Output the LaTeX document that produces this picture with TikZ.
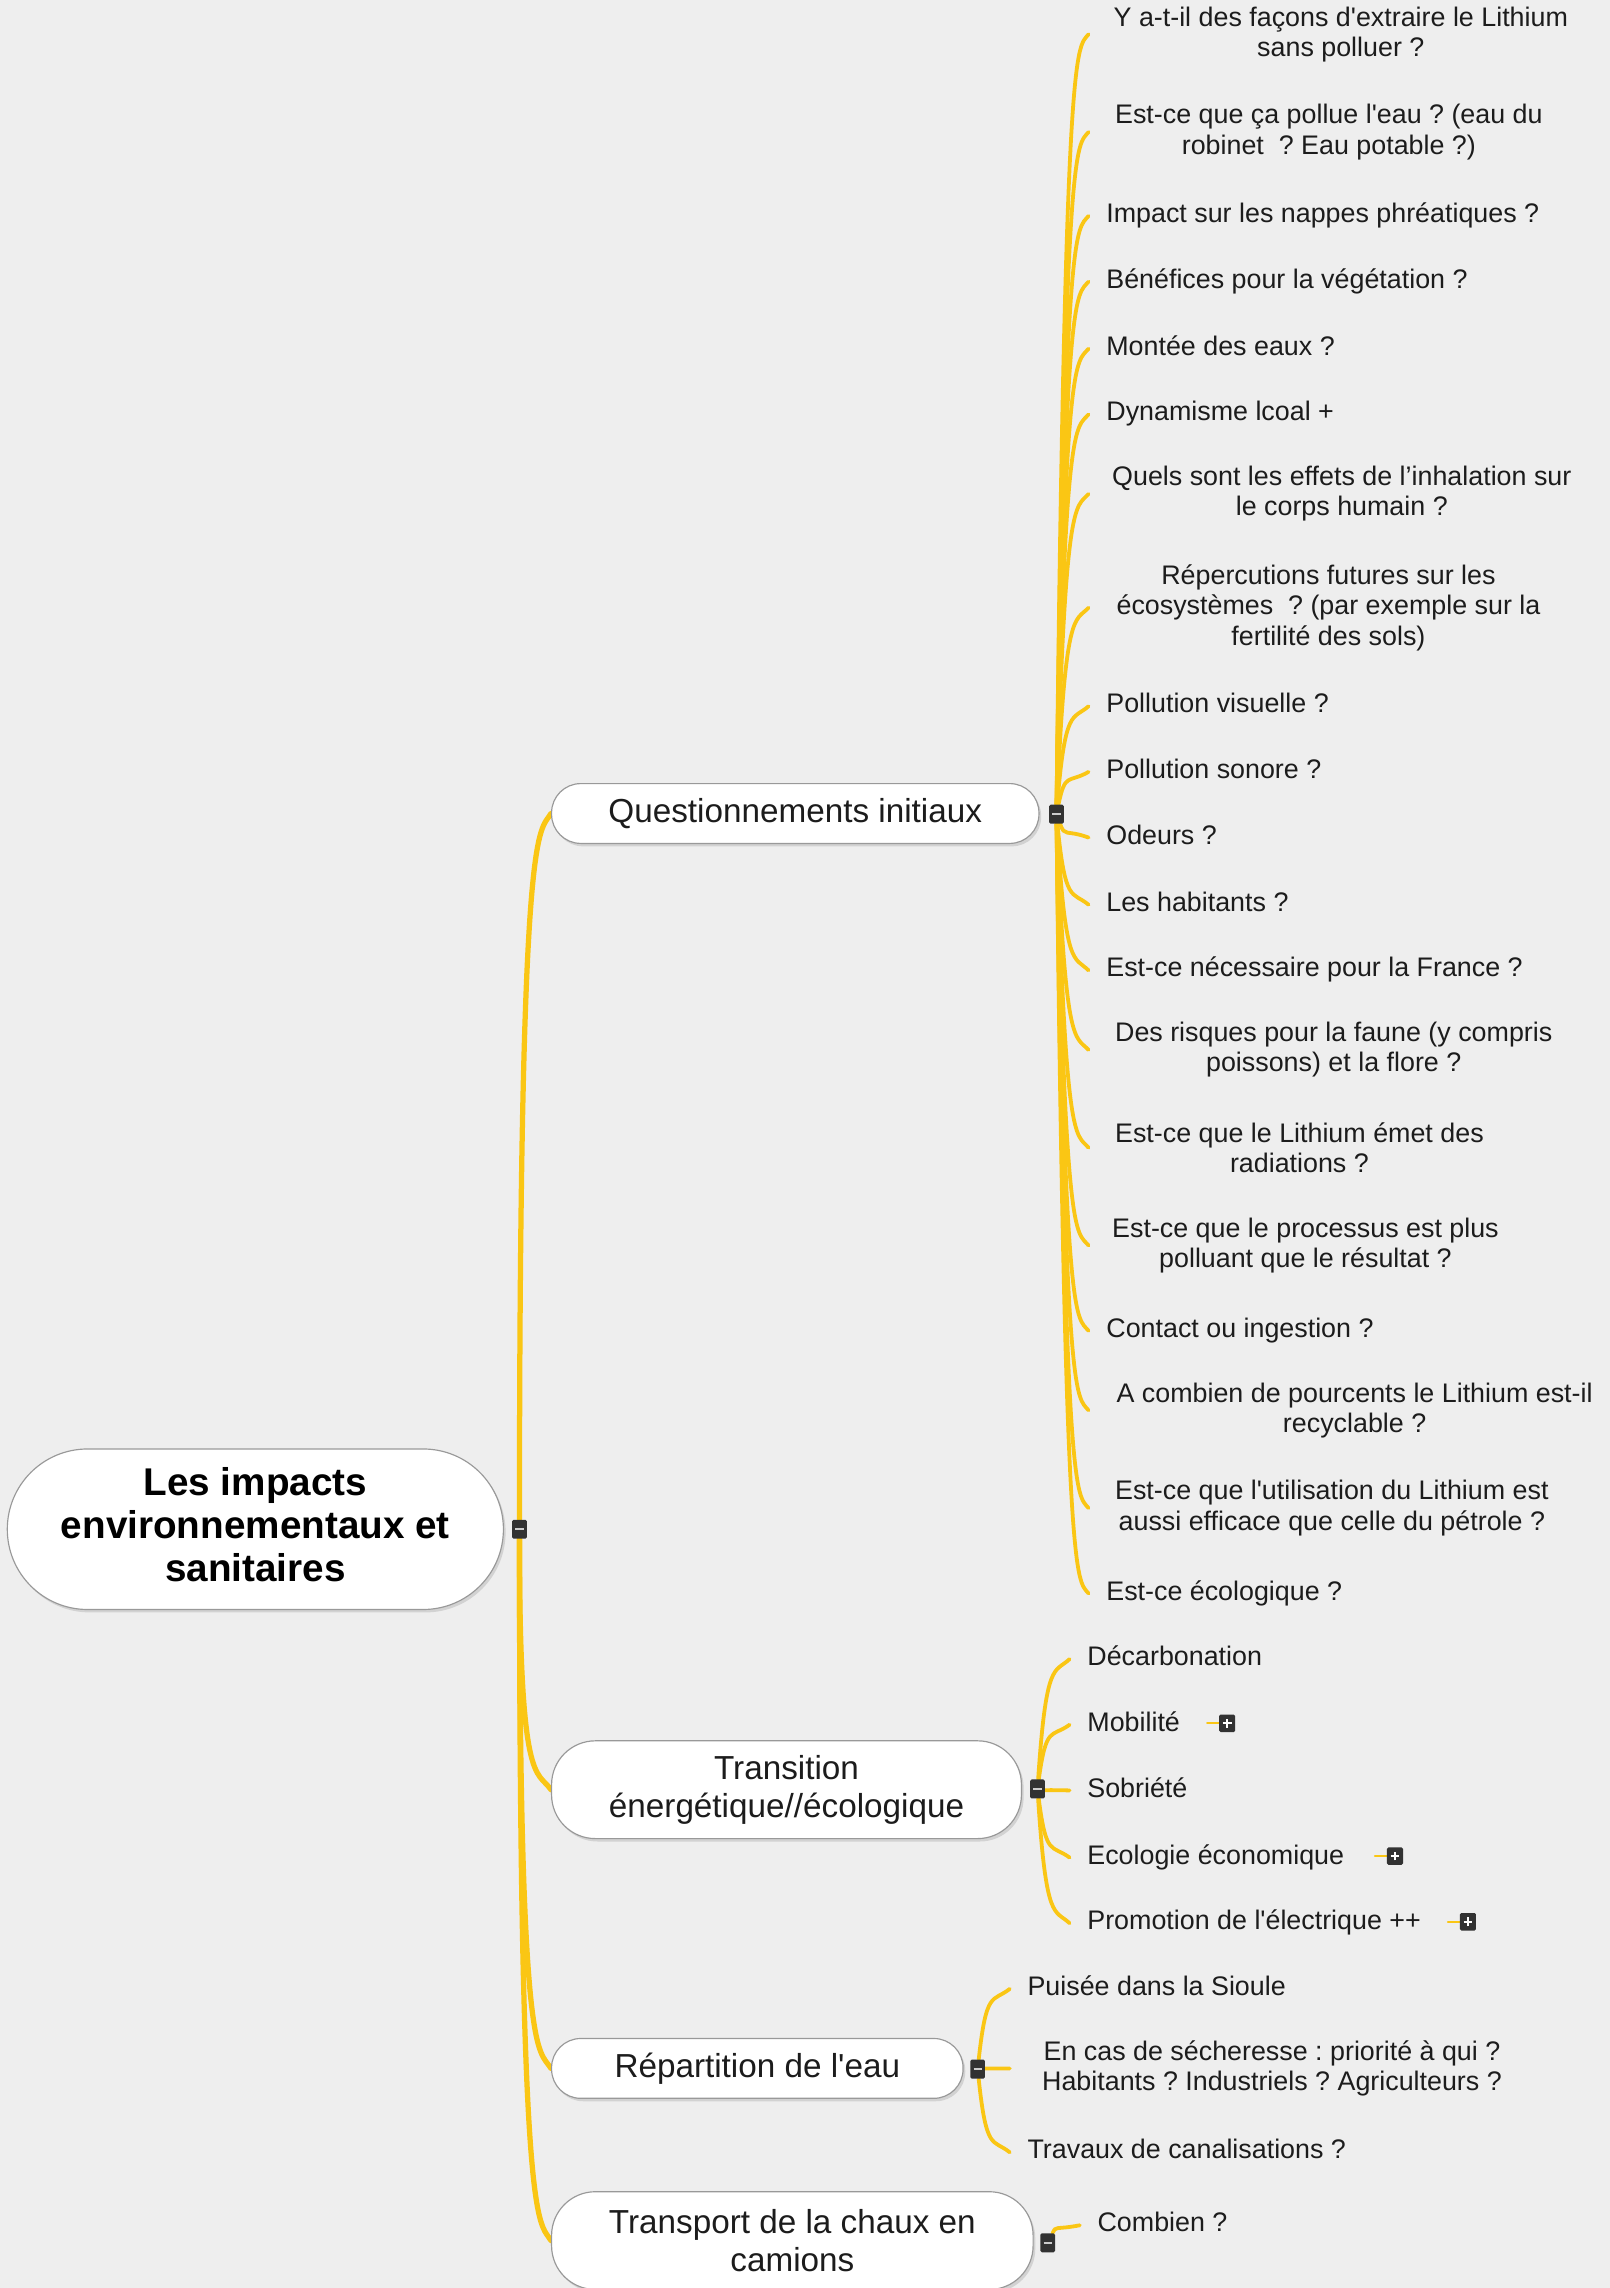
\documentclass[tikz,border=0pt]{standalone}
\usepackage{fontspec}
\setmainfont{Liberation Sans}[Ligatures=TeXOff]
\usepackage{tikz}
\usetikzlibrary{positioning, calc, shadows}

\definecolor{branchyellow}{RGB}{250,198,20}
\definecolor{bggray}{RGB}{238,238,238}
\definecolor{markgray}{RGB}{50,50,50}
\definecolor{inkgray}{RGB}{28,28,28}

\pgfdeclarelayer{background}
\pgfsetlayers{background,main}
\frenchspacing

\begin{document}
\begin{tikzpicture}[
  x=1pt, y=-1pt,
  root/.style={rectangle, draw=gray!80, line width=0.8pt, fill=white, rounded corners=55pt, minimum width=340pt, minimum height=110pt, align=center, text depth=6pt, text=black, font=\fontsize{26.5}{29.5}\selectfont\bfseries, drop shadow={shadow xshift=1.5pt, shadow yshift=-2pt, opacity=0.25}},
  topic/.style={rectangle, draw=gray!80, line width=0.8pt, fill=white, rounded corners=20pt, minimum height=41pt, align=center, text=inkgray, font=\fontsize{22.8}{26}\selectfont, drop shadow={shadow xshift=1.5pt, shadow yshift=-2pt, opacity=0.25}},
  leaf/.style={anchor=west, inner sep=0pt, yshift=-2pt, text height=13pt, text depth=4pt, text=inkgray, font=\fontsize{18.4}{20.7}\selectfont},
  leafm/.style={anchor=west, inner sep=0pt, yshift=-2.5pt, align=center, text=inkgray, font=\fontsize{18.4}{20.7}\selectfont},
  minusbox/.style={rectangle, fill=markgray, rounded corners=1pt, minimum width=10pt, minimum height=13pt, inner sep=0pt,
    path picture={\draw[gray!40, line width=1.5pt] ([xshift=-2.8pt]path picture bounding box.center) -- ([xshift=2.8pt]path picture bounding box.center);}},
  plusbox/.style={rectangle, fill=markgray, rounded corners=1pt, minimum width=11pt, minimum height=12pt, inner sep=0pt,
    path picture={\draw[white, line width=1.5pt] ([xshift=-3pt]path picture bounding box.center) -- ([xshift=3pt]path picture bounding box.center)
      ([yshift=-3pt]path picture bounding box.center) -- ([yshift=3pt]path picture bounding box.center);}},
  trunk/.style={draw=branchyellow, line width=3.6pt, line cap=round},
  branch/.style={draw=branchyellow, line width=2.6pt, line cap=round}
]
  \useasboundingbox (0,0) rectangle (1103,1568);

  % central topic
  \node[root] (root) at (175,1048) {Les impacts\\environnementaux et\\sanitaires};
  \node[minusbox] (rm) at (356,1048) {};

  % main topics
  \node[topic, minimum width=334pt] (quest) at (545,557.5) {Questionnements initiaux};
  \node[topic, minimum width=322pt, minimum height=67pt, rounded corners=30pt] (trans) at (539,1226.5) {Transition\\énergétique//écologique};
  \node[topic, minimum width=282pt] (repart) at (519,1417.5) {Répartition de l'eau};
  \node[topic, minimum width=330pt, minimum height=67pt, rounded corners=30pt] (chaux) at (543,1535.5) {Transport de la chaux en\\camions};
  \node[minusbox] (qm) at (724,558) {};
  \node[minusbox] (tm) at (711,1226) {};
  \node[minusbox] (rpm) at (670,1418) {};
  \node[minusbox] (cm) at (718,1537) {};

  % questions
  \node[leafm] (q1) at (763,21) {Y a-t-il des façons d'extraire le Lithium\\sans polluer ?};
  \node[leafm] (q2) at (764,88) {Est-ce que ça pollue l'eau ? (eau du\\robinet\ \ ? Eau potable ?)};
  \node[leaf] (q3) at (758,146) {Impact sur les nappes phréatiques ?};
  \node[leaf] (q4) at (758,191) {Bénéfices pour la végétation ?};
  \node[leaf] (q5) at (758,237) {Montée des eaux ?};
  \node[leaf] (q6) at (758,282) {Dynamisme lcoal +};
  \node[leafm] (q7) at (762,336) {Quels sont les effets de l’inhalation sur\\le corps humain ?};
  \node[leafm] (q8) at (765,414) {Répercutions futures sur les\\écosystèmes\ \ ? (par exemple sur la\\fertilité des sols)};
  \node[leaf] (q9) at (758,482) {Pollution visuelle ?};
  \node[leaf] (q10) at (758,527) {Pollution sonore ?};
  \node[leaf] (q11) at (758,572) {Odeurs ?};
  \node[leaf] (q12) at (758,618) {Les habitants ?};
  \node[leaf] (q13) at (758,663) {Est-ce nécessaire pour la France ?};
  \node[leafm] (q14) at (764,717) {Des risques pour la faune (y compris\\poissons) et la flore ?};
  \node[leafm] (q15) at (764,784) {Est-ce que le Lithium émet des\\radiations ?};
  \node[leafm] (q16) at (762,851) {Est-ce que le processus est plus\\polluant que le résultat ?};
  \node[leaf] (q17) at (758,910) {Contact ou ingestion ?};
  \node[leafm] (q18) at (765,964) {A combien de pourcents le Lithium est-il\\recyclable ?};
  \node[leafm] (q19) at (764,1031) {Est-ce que l'utilisation du Lithium est\\aussi efficace que celle du pétrole ?};
  \node[leaf] (q20) at (758,1090) {Est-ce écologique ?};

  % transition
  \node[leaf] (t1) at (745,1135) {Décarbonation};
  \node[leaf] (t2) at (745,1180) {Mobilité};
  \node[leaf] (t3) at (745,1225) {Sobriété};
  \node[leaf] (t4) at (745,1271) {Ecologie économique};
  \node[leaf] (t5) at (745,1316) {Promotion de l'électrique ++};
  \node[plusbox] (tp2) at (841,1181) {};
  \node[plusbox] (tp4) at (956,1272) {};
  \node[plusbox] (tp5) at (1006,1317) {};

  % eau
  \node[leaf] (r1) at (704,1361) {Puisée dans la Sioule};
  \node[leafm] (r2) at (714,1415) {En cas de sécheresse : priorité à qui ?\\Habitants ? Industriels ? Agriculteurs ?};
  \node[leaf] (r3) at (704,1473) {Travaux de canalisations ?};

  % chaux
  \node[leaf] (c1) at (752,1523) {Combien ?};

  \begin{pgfonlayer}{background}
    \fill[bggray] (0,0) rectangle (1103,1568);
    \foreach \nd in {quest,trans,repart,chaux}
      \draw[trunk] (rm) .. controls (rm |- \nd.west) and ($(\nd.west)!14pt!(rm)+(-8,0)$) .. (\nd.west);
    \coordinate (qx) at ($(qm)+(22,0)$);
    \foreach \i in {1,...,20} {
      \coordinate (qt\i) at (qx |- q\i.west);
      \draw[branch] (qm) .. controls ($(qm |- qt\i)+(6,0)$) and ($(qt\i)!10pt!(qm)+(-8,0)$) .. (qt\i);
    }
    \coordinate (tx) at ($(tm)+(22,0)$);
    \foreach \i in {1,...,5} {
      \coordinate (tt\i) at (tx |- t\i.west);
      \draw[branch] (tm) .. controls ($(tm |- tt\i)+(6,0)$) and ($(tt\i)!10pt!(tm)+(-8,0)$) .. (tt\i);
    }
    \coordinate (rx) at ($(rpm)+(22,0)$);
    \foreach \i in {1,...,3} {
      \coordinate (rt\i) at (rx |- r\i.west);
      \draw[branch] (rpm) .. controls ($(rpm |- rt\i)+(6,0)$) and ($(rt\i)!10pt!(rpm)+(-8,0)$) .. (rt\i);
    }
    \draw[branch] (cm) .. controls ($(cm |- c1.west)+(6,0)$) and ($(c1.west)!10pt!(cm)+(-20,0)$) .. ([xshift=-12pt]c1.west);
    \foreach \p in {tp2,tp4,tp5}
      \draw[branch, line width=1.6pt] ([xshift=-8pt]\p.west) -- (\p.west);
  \end{pgfonlayer}
\end{tikzpicture}
\end{document}
